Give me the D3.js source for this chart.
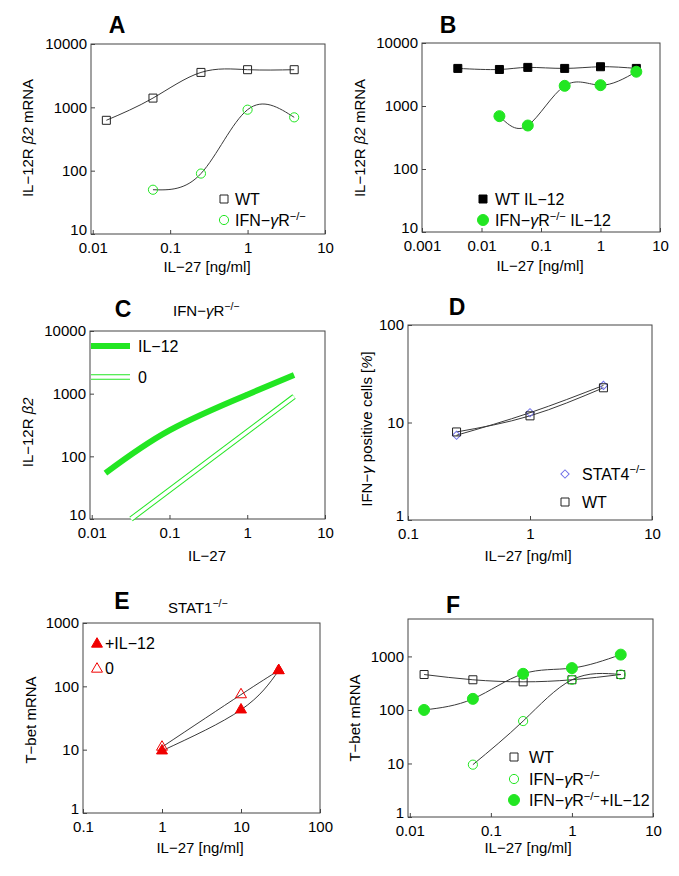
<!DOCTYPE html>
<html lang="en">
<head>
<meta charset="utf-8">
<style>
    body { margin: 0; background: #fff; }
    text { font-family: "Liberation Sans", Arial, sans-serif; fill: #000; }
</style>
</head>
<body>
<svg id="fig" width="679" height="876"></svg>
<script src="https://cdn.jsdelivr.net/npm/d3@7"></script>
<script>

    // ---- data ----
    // A
    var aX_wt = [0.015, 0.06, 0.25, 1, 4];
    var aY_wt = [624, 1400, 3560, 3930, 3930];
    var aX_ifn = [0.06, 0.25, 1, 4];
    var aY_ifn = [50, 90, 918, 695];
    // B
    var bX_wt = [0.004, 0.02, 0.06, 0.25, 1, 4];
    var bY_wt = [3950, 3800, 4100, 3950, 4200, 3950];
    var bX_ifn = [0.02, 0.06, 0.25, 1, 4];
    var bY_ifn = [690, 490, 2090, 2140, 3500];
    // C
    var cX_il12 = [0.015, 0.1, 1, 4];
    var cY_il12 = [54, 260, 963, 1980];
    var cX_zero = [0.032, 4];
    var cY_zero = [10, 900];
    // D
    var dX = [0.25, 1, 4];
    var dY_stat4 = [7.4, 12.6, 24];
    var dY_wt = [8.0, 11.7, 22.7];
    // E
    var eX = [1, 10, 30];
    var eY_il12 = [9.6, 42.6, 178];
    var eY_zero = [11, 74, 178];
    // F
    var fX_wt = [0.015, 0.06, 0.25, 1, 4];
    var fY_wt = [459, 366, 335, 366, 459];
    var fX_ifn = [0.06, 0.25, 1, 4];
    var fY_ifn = [9.5, 62, 366, 459];
    var fX_il12 = [0.015, 0.06, 0.25, 1, 4];
    var fY_il12 = [100, 161, 473, 605, 1080];

    // tick values
    var ticksMilli = [0.001, 0.01, 0.1, 1, 10];
    var ticksCenti = [0.01, 0.1, 1, 10];
    var ticksDeci = [0.1, 1, 10];
    var ticksDeci100 = [0.1, 1, 10, 100];
    var ticksY4 = [10, 100, 1000, 10000];
    var ticksY2 = [1, 10, 100];
    var ticksY3 = [1, 10, 100, 1000];

    var GREEN = "#22e622", LINE = "#3a3a3a", AXIS = "#444", BLUE = "#6f6fe8", RED = "#f00000";
    var FS = 15, LFS = 16;

    var svg = d3.select("#fig");

    function zip(xs, ys) {
        return xs.map(function (d, i) { return [d, ys[i]]; });
    }

    var makePanel = function (box, xDom, yDom, xTicks, yTicks) {
        var x = d3.scaleLog().domain(xDom).range([box[0], box[2]]);
        var y = d3.scaleLog().domain(yDom).range([box[3], box[1]]);
        var g = svg.append("g");

        var ax = g.append("g")
            .attr("transform", "translate(0," + box[3] + ")")
            .call(d3.axisBottom(x).tickValues(xTicks).tickFormat(d3.format("")).tickSizeInner(-4).tickSizeOuter(0).tickPadding(8));
        var ay = g.append("g")
            .attr("transform", "translate(" + box[0] + ",0)")
            .call(d3.axisLeft(y).tickValues(yTicks).tickFormat(d3.format("")).tickSizeInner(-4).tickSizeOuter(0).tickPadding(4));
        [ax, ay].forEach(function (a) {
            a.select(".domain").remove();
            a.selectAll("line").attr("stroke", AXIS);
            a.selectAll("text").attr("font-size", FS).attr("font-family", "Liberation Sans, Arial, sans-serif").attr("fill", "#000");
        });
        // matlab nudges the lowest y label up off the corner
        ay.selectAll(".tick text").filter(function (d) { return d == yDom[0]; }).attr("dy", "0.05em");
        g.append("rect")
            .attr("x", box[0]).attr("y", box[1])
            .attr("width", box[2] - box[0]).attr("height", box[3] - box[1])
            .attr("fill", "none").attr("stroke", AXIS).attr("stroke-width", 1);

        var plot = g.append("g");
        var line = d3.line()
            .x(function (d) { return x(d[0]); })
            .y(function (d) { return y(d[1]); })
            .curve(d3.curveNatural);
        return {g: g, plot: plot, x: x, y: y, line: line};
    };

    var curve = function (p, pts, color, width) {
        p.plot.append("path")
            .attr("d", p.line(pts))
            .attr("fill", "none")
            .attr("stroke", color || LINE)
            .attr("stroke-width", width || 1);
    };

    var symbolPath = function (kind) {
        if (kind == "square") return d3.symbol(d3.symbolSquare, 64)();
        if (kind == "circle") return d3.symbol(d3.symbolCircle, 66)();
        if (kind == "bigcircle") return d3.symbol(d3.symbolCircle, 95)();
        if (kind == "triangle") return d3.symbol(d3.symbolTriangle, 52)();
        if (kind == "diamond") return d3.symbol(d3.symbolSquare, 34)();
    };

    var marker = function (parent, cx, cy, kind, fill, stroke) {
        parent.append("path")
            .attr("d", symbolPath(kind))
            .attr("transform", "translate(" + cx + "," + cy + ")" + (kind == "diamond" ? " rotate(45)" : ""))
            .attr("fill", fill)
            .attr("stroke", stroke)
            .attr("stroke-width", 1);
    };

    var markers = function (p, pts, kind, fill, stroke) {
        pts.forEach(function (d) {
            marker(p.plot, p.x(d[0]), p.y(d[1]), kind, fill, stroke);
        });
    };

    // text with optional italic / superscript parts: parts = [[str, "n"|"i"|"sup"], ...]
    var richText = function (parent, parts, size) {
        size = size || FS;
        var t = parent.append("text").attr("font-size", size);
        var raised = false;
        parts.forEach(function (pt) {
            var s = t.append("tspan").text(pt[0]);
            if (pt[1] == "i") s.attr("font-style", "italic");
            if (pt[1] == "sup") {
                s.attr("font-size", size * 0.7).attr("dy", -size * 0.4);
                raised = true;
            } else if (raised) {
                s.attr("dy", size * 0.4);
                raised = false;
            }
        });
        return t;
    };

    var title = function (letter, x, y) {
        svg.append("text").attr("x", x).attr("y", y)
            .attr("text-anchor", "middle").attr("font-size", 23).attr("font-weight", "bold")
            .text(letter);
    };

    // rotated label, placed so that the middle of its box lands on (cx, cy)
    var yLabel = function (parts, cx, cy) {
        var t = richText(svg, parts);
        var bb = t.node().getBBox();
        t.attr("transform", "translate(" + cx + "," + cy + ") rotate(-90) translate(" +
            (-bb.x - bb.width / 2) + "," + (-bb.y - bb.height / 2) + ")");
    };

    var xLabel = function (str, cx, by) {
        svg.append("text").attr("x", cx).attr("y", by).attr("text-anchor", "middle")
            .attr("font-size", FS).text(str);
    };

    var legendText = function (parts, x, y) {
        richText(svg, parts, LFS).attr("x", x).attr("y", y);
    };

    var ifnParts = [["IFN−", "n"], ["γ", "i"], ["R", "n"], ["−/−", "sup"]];
    var betaLabel = [["IL−12R ", "n"], ["β2", "i"], [" mRNA", "n"]];

    // ---------------- Panel A ----------------
    var pA = makePanel([91, 44, 325, 234], [0.0095, 10], [10, 10000], ticksCenti, ticksY4);
    curve(pA, zip(aX_wt, aY_wt));
    curve(pA, zip(aX_ifn, aY_ifn));
    markers(pA, zip(aX_wt, aY_wt), "square", "none", "#222");
    markers(pA, zip(aX_ifn, aY_ifn), "circle", "none", GREEN);
    title("A", 117, 33);
    yLabel(betaLabel, 27, 138);
    xLabel("IL−27 [ng/ml]", 207, 272);
    marker(svg, 224, 199, "square", "none", "#222");
    legendText([["WT", "n"]], 235, 205);
    marker(svg, 224, 220, "circle", "none", GREEN);
    legendText(ifnParts, 235, 226);

    // ---------------- Panel B ----------------
    var pB = makePanel([422, 43, 660, 232], [0.001, 10], [10, 10000], ticksMilli, ticksY4);
    curve(pB, zip(bX_wt, bY_wt));
    curve(pB, zip(bX_ifn, bY_ifn));
    markers(pB, zip(bX_wt, bY_wt), "square", "#000", "#000");
    markers(pB, zip(bX_ifn, bY_ifn), "bigcircle", GREEN, GREEN);
    title("B", 448, 33);
    yLabel(betaLabel, 359, 138);
    xLabel("IL−27 [ng/ml]", 540, 271);
    marker(svg, 483, 199, "square", "#000", "#000");
    legendText([["WT IL−12", "n"]], 495, 205);
    marker(svg, 483, 220, "bigcircle", GREEN, GREEN);
    legendText(ifnParts.concat([[" IL−12", "n"]]), 495, 226);

    // ---------------- Panel C ----------------
    var pC = makePanel([90, 331, 325, 519], [0.0095, 10], [10, 10000], ticksCenti, ticksY4);
    curve(pC, zip(cX_il12, cY_il12), GREEN, 6);
    var zeroPts = zip(cX_zero, cY_zero);
    pC.plot.append("path").attr("d", pC.line(zeroPts)).attr("fill", "none").attr("stroke", GREEN).attr("stroke-width", 5.5);
    pC.plot.append("path").attr("d", pC.line(zeroPts)).attr("fill", "none").attr("stroke", "#fff").attr("stroke-width", 3.5);
    title("C", 123, 317);
    richText(svg, ifnParts, 15).attr("x", 173).attr("y", 316);
    yLabel([["IL−12R ", "n"], ["β2", "i"]], 27.5, 432);
    xLabel("IL−27", 207, 561);
    svg.append("line").attr("x1", 91).attr("x2", 130).attr("y1", 346).attr("y2", 346)
        .attr("stroke", GREEN).attr("stroke-width", 6);
    legendText([["IL−12", "n"]], 138, 352);
    svg.append("line").attr("x1", 91).attr("x2", 130).attr("y1", 377).attr("y2", 377)
        .attr("stroke", GREEN).attr("stroke-width", 5.5);
    svg.append("line").attr("x1", 91).attr("x2", 130).attr("y1", 377).attr("y2", 377)
        .attr("stroke", "#fff").attr("stroke-width", 3.5);
    legendText([["0", "n"]], 138, 383);

    // ---------------- Panel D ----------------
    var pD = makePanel([408, 325, 652, 520], [0.1, 10], [1, 100], ticksDeci, ticksY2);
    curve(pD, zip(dX, dY_stat4));
    curve(pD, zip(dX, dY_wt));
    markers(pD, zip(dX, dY_stat4), "diamond", "none", BLUE);
    markers(pD, zip(dX, dY_wt), "square", "none", "#222");
    title("D", 457, 315);
    yLabel([["IFN−", "n"], ["γ", "i"], [" positive cells [", "n"], ["%", "i"], ["]", "n"]], 366.5, 429);
    xLabel("IL−27 [ng/ml]", 528, 561);
    marker(svg, 565, 474, "diamond", "none", BLUE);
    legendText([["STAT4", "n"], ["−/−", "sup"]], 582, 479.5);
    marker(svg, 565, 502, "square", "none", "#222");
    legendText([["WT", "n"]], 582, 508);

    // ---------------- Panel E ----------------
    var pE = makePanel([83, 623, 320, 813], [0.1, 100], [1, 1000], ticksDeci100, ticksY3);
    curve(pE, zip(eX, eY_zero));
    curve(pE, zip(eX, eY_il12));
    markers(pE, zip(eX, eY_zero), "triangle", "none", RED);
    markers(pE, zip(eX, eY_il12), "triangle", RED, RED);
    title("E", 122, 609);
    richText(svg, [["STAT1", "n"], ["−/−", "sup"]], 15).attr("x", 168).attr("y", 613);
    yLabel([["T−bet mRNA", "n"]], 30.5, 720);
    xLabel("IL−27 [ng/ml]", 200, 853);
    marker(svg, 97, 644, "triangle", RED, RED);
    legendText([["+IL−12", "n"]], 105, 649);
    marker(svg, 97, 669, "triangle", "none", RED);
    legendText([["0", "n"]], 105, 674);

    // ---------------- Panel F ----------------
    var pF = makePanel([408, 619, 653, 817], [0.0095, 10], [1, 5000], ticksCenti, ticksY3);
    curve(pF, zip(fX_wt, fY_wt));
    curve(pF, zip(fX_ifn, fY_ifn));
    curve(pF, zip(fX_il12, fY_il12));
    markers(pF, zip(fX_wt, fY_wt), "square", "none", "#222");
    markers(pF, zip(fX_ifn, fY_ifn), "circle", "none", GREEN);
    markers(pF, zip(fX_il12, fY_il12), "bigcircle", GREEN, GREEN);
    title("F", 453, 613);
    yLabel([["T−bet mRNA", "n"]], 354, 718);
    xLabel("IL−27 [ng/ml]", 528, 853);
    marker(svg, 514, 757, "square", "none", "#222");
    legendText([["WT", "n"]], 529, 763);
    marker(svg, 514, 779, "circle", "none", GREEN);
    legendText(ifnParts, 529, 785);
    marker(svg, 514, 800, "bigcircle", GREEN, GREEN);
    legendText(ifnParts.concat([["+IL−12", "n"]]), 529, 806);

</script>
</body>
</html>
